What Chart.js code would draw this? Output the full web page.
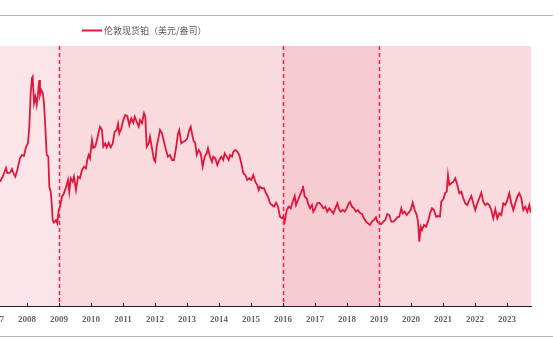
<!DOCTYPE html>
<html>
<head>
<meta charset="utf-8">
<script src="https://cdn.jsdelivr.net/npm/chart.js@4.4.0/dist/chart.umd.min.js"></script>
<style>
  html, body { margin: 0; padding: 0; background: #fff; overflow: hidden; }
  body { width: 559px; height: 337px; position: relative; }
  #wrap { position: absolute; left: -40px; top: 0; width: 599px; height: 337px; }
  .rule { position: absolute; left: 0; width: 553px; height: 1px; background: #b4b4b4; }
</style>
</head>
<body>
<div class="rule" style="top:15px"></div>
<div id="wrap"><canvas id="chart"></canvas></div>
<div class="rule" style="top:336px"></div>
<script>
// London spot platinum, USD per ounce
const seriesName = '伦敦现货铂（美元/盎司）';

const years = [
  2007.156, 2007.241, 2007.344, 2007.384, 2007.469, 2007.531, 2007.572, 2007.634, 2007.697, 2007.781,
  2007.844, 2007.906, 2007.969, 2008.031, 2008.072, 2008.116, 2008.156, 2008.178, 2008.219, 2008.259,
  2008.303, 2008.344, 2008.384, 2008.406, 2008.447, 2008.491, 2008.531, 2008.572, 2008.616, 2008.666,
  2008.697, 2008.741, 2008.772, 2008.803, 2008.844, 2008.906, 2008.947, 2008.991, 2009.031, 2009.094,
  2009.156, 2009.241, 2009.281, 2009.322, 2009.366, 2009.428, 2009.469, 2009.531, 2009.594, 2009.656,
  2009.719, 2009.781, 2009.844, 2009.884, 2009.928, 2009.969, 2010.031, 2010.072, 2010.134, 2010.197,
  2010.241, 2010.281, 2010.344, 2010.384, 2010.447, 2010.491, 2010.553, 2010.616, 2010.678, 2010.741,
  2010.803, 2010.844, 2010.884, 2010.947, 2011.009, 2011.072, 2011.134, 2011.197, 2011.259, 2011.322,
  2011.366, 2011.428, 2011.491, 2011.531, 2011.594, 2011.656, 2011.697, 2011.741, 2011.803, 2011.844,
  2011.906, 2011.969, 2012.009, 2012.053, 2012.116, 2012.156, 2012.219, 2012.281, 2012.344, 2012.406,
  2012.469, 2012.531, 2012.594, 2012.656, 2012.719, 2012.759, 2012.822, 2012.884, 2012.938, 2013.009,
  2013.072, 2013.116, 2013.156, 2013.197, 2013.259, 2013.303, 2013.366, 2013.428, 2013.491, 2013.553,
  2013.616, 2013.656, 2013.719, 2013.781, 2013.822, 2013.884, 2013.947, 2014.009, 2014.072, 2014.134,
  2014.178, 2014.241, 2014.303, 2014.344, 2014.406, 2014.447, 2014.509, 2014.572, 2014.634, 2014.697,
  2014.759, 2014.822, 2014.884, 2014.947, 2015.009, 2015.072, 2015.134, 2015.197, 2015.241, 2015.281,
  2015.344, 2015.406, 2015.469, 2015.531, 2015.594, 2015.656, 2015.719, 2015.781, 2015.844, 2015.906,
  2015.969, 2016.009, 2016.053, 2016.116, 2016.178, 2016.241, 2016.303, 2016.366, 2016.406, 2016.469,
  2016.531, 2016.594, 2016.625, 2016.678, 2016.741, 2016.781, 2016.844, 2016.906, 2016.947, 2017.009,
  2017.072, 2017.134, 2017.197, 2017.259, 2017.322, 2017.384, 2017.447, 2017.509, 2017.572, 2017.634,
  2017.697, 2017.741, 2017.803, 2017.866, 2017.928, 2017.991, 2018.053, 2018.094, 2018.156, 2018.219,
  2018.281, 2018.344, 2018.406, 2018.469, 2018.531, 2018.594, 2018.656, 2018.719, 2018.781, 2018.844,
  2018.906, 2018.947, 2019.009, 2019.072, 2019.134, 2019.197, 2019.259, 2019.322, 2019.384, 2019.447,
  2019.509, 2019.572, 2019.634, 2019.697, 2019.741, 2019.803, 2019.866, 2019.928, 2019.991, 2020.053,
  2020.116, 2020.178, 2020.219, 2020.259, 2020.303, 2020.344, 2020.406, 2020.469, 2020.531, 2020.594,
  2020.656, 2020.719, 2020.781, 2020.844, 2020.906, 2020.947, 2021.009, 2021.072, 2021.116, 2021.156,
  2021.197, 2021.259, 2021.322, 2021.384, 2021.447, 2021.509, 2021.572, 2021.634, 2021.697, 2021.759,
  2021.822, 2021.884, 2021.947, 2022.009, 2022.072, 2022.134, 2022.197, 2022.259, 2022.322, 2022.384,
  2022.447, 2022.509, 2022.572, 2022.634, 2022.697, 2022.759, 2022.822, 2022.884, 2022.947, 2023.009,
  2023.072, 2023.134, 2023.197, 2023.259, 2023.322, 2023.384, 2023.447, 2023.509, 2023.572, 2023.634,
  2023.697, 2023.741
];

const prices = [
  1195, 1243, 1327, 1279, 1282, 1317, 1279, 1243, 1308, 1423,
  1452, 1442, 1529, 1567, 1724, 2048, 2192, 2205, 1952, 2012,
  1933, 2048, 2173, 2029, 2077, 2051, 1952, 1724, 1452, 1436,
  1147, 1099, 990, 827, 801, 827, 795, 923, 955, 1051,
  1084, 1163, 1211, 1099, 1228, 1195, 1243, 1115, 1243, 1228,
  1308, 1339, 1324, 1404, 1452, 1420, 1596, 1519, 1532, 1612,
  1676, 1724, 1692, 1532, 1564, 1526, 1570, 1526, 1564, 1676,
  1692, 1750, 1660, 1709, 1788, 1836, 1827, 1740, 1805, 1762,
  1820, 1772, 1724, 1788, 1757, 1853, 1820, 1532, 1564, 1628,
  1516, 1404, 1387, 1532, 1628, 1692, 1660, 1580, 1500, 1436,
  1452, 1404, 1404, 1516, 1660, 1692, 1564, 1580, 1586, 1612,
  1692, 1724, 1660, 1596, 1564, 1452, 1500, 1468, 1339, 1436,
  1468, 1516, 1436, 1387, 1436, 1420, 1356, 1404, 1436, 1404,
  1468, 1436, 1404, 1452, 1436, 1484, 1500, 1484, 1452, 1372,
  1276, 1260, 1211, 1228, 1211, 1260, 1195, 1163, 1115, 1147,
  1132, 1132, 1084, 1051, 987, 971, 955, 993, 955, 859,
  843, 859, 811, 923, 955, 939, 1003, 1058, 971, 1019,
  1067, 1115, 1154, 1051, 1036, 987, 939, 971, 907, 939,
  987, 993, 971, 939, 955, 907, 939, 916, 891, 939,
  987, 939, 907, 923, 907, 939, 987, 1003, 955, 939,
  907, 923, 894, 885, 843, 811, 795, 779, 811, 827,
  853, 811, 795, 788, 811, 827, 885, 875, 811, 811,
  827, 853, 859, 939, 891, 907, 875, 897, 923, 993,
  923, 875, 811, 618, 762, 731, 779, 762, 811, 891,
  939, 923, 859, 865, 859, 1003, 1026, 1089, 1099, 1260,
  1163, 1180, 1195, 1228, 1163, 1084, 1099, 1036, 987, 971,
  1019, 1058, 987, 923, 987, 1036, 1089, 1003, 971, 987,
  971, 923, 843, 930, 843, 891, 875, 987, 971, 1019,
  1084, 987, 923, 987, 1051, 1084, 1036, 923, 955, 907,
  971, 897
];

const tickYears = [2007, 2008, 2009, 2010, 2011, 2012, 2013, 2014, 2015, 2016,
                   2017, 2018, 2019, 2020, 2021, 2022, 2023];

// shaded periods (start year) and their fills; each runs to the next start
const bandStarts = [2006.2, 2009, 2016, 2019];
const bandColors = ['#fce5e9', '#f9dade', '#f7cbd2', '#f9dade'];
const markerYears = [2009, 2016, 2019];

const lineColor = '#e0173a';
const markerColor = '#ff1f45';

const bandsPlugin = {
  id: 'bands',
  beforeDatasetsDraw(chart) {
    const { ctx, chartArea, scales } = chart;
    const x = scales.x;
    ctx.save();
    bandStarts.forEach((start, i) => {
      const x0 = Math.max(x.getPixelForValue(start), chartArea.left);
      const x1 = i + 1 < bandStarts.length ? x.getPixelForValue(bandStarts[i + 1]) : chartArea.right;
      ctx.fillStyle = bandColors[i];
      ctx.fillRect(x0, chartArea.top, x1 - x0, chartArea.bottom - chartArea.top);
    });
    ctx.restore();
  },
  afterDatasetsDraw(chart) {
    const { ctx, chartArea, scales } = chart;
    const x = scales.x;
    // dashed separators between periods
    ctx.save();
    ctx.strokeStyle = markerColor;
    ctx.lineWidth = 1.5;
    ctx.setLineDash([4, 3]);
    markerYears.forEach(yr => {
      const px = Math.round(x.getPixelForValue(yr)) + 0.5;
      ctx.beginPath();
      ctx.moveTo(px, chartArea.top);
      ctx.lineTo(px, chartArea.bottom);
      ctx.stroke();
    });
    ctx.restore();
  },
  afterDraw(chart) {
    const { ctx, chartArea, scales } = chart;
    const x = scales.x;
    ctx.save();
    // small inward tick marks on the axis
    ctx.strokeStyle = '#222';
    ctx.lineWidth = 1;
    tickYears.forEach(yr => {
      const px = Math.round(x.getPixelForValue(yr)) + 0.5;
      ctx.beginPath();
      ctx.moveTo(px, chartArea.bottom);
      ctx.lineTo(px, chartArea.bottom - 3);
      ctx.stroke();
    });
    // legend
    ctx.strokeStyle = lineColor;
    ctx.lineWidth = 2;
    ctx.beginPath();
    ctx.moveTo(122, 30.5);
    ctx.lineTo(142, 30.5);
    ctx.stroke();
    ctx.fillStyle = '#555';
    ctx.font = '9px "Noto Sans CJK SC", sans-serif';
    ctx.textBaseline = 'middle';
    ctx.fillText(seriesName, 144, 30.5);
    ctx.restore();
  }
};

new Chart(document.getElementById('chart'), {
  type: 'line',
  data: {
    datasets: [{
      label: seriesName,
      data: years.map((yr, i) => ({ x: yr, y: prices[i] })),
      borderColor: lineColor,
      borderWidth: 1.8,
      pointRadius: 0,
      tension: 0,
      fill: false
    }]
  },
  options: {
    responsive: true,
    maintainAspectRatio: false,
    animation: false,
    layout: { padding: { left: 10, right: 28, top: 46, bottom: 6 } },
    plugins: { legend: { display: false }, tooltip: { enabled: false } },
    scales: {
      x: {
        type: 'linear',
        min: 2006.219,
        max: 2023.75,
        afterBuildTicks: s => { s.ticks = tickYears.map(v => ({ value: v })); },
        afterFit: s => { s.height = 25; },
        grid: { display: false, drawTicks: false },
        border: { display: true, color: '#222', width: 1 },
        ticks: {
          padding: 8,
          maxRotation: 0,
          autoSkip: false,
          color: '#666',
          font: { family: '"Liberation Serif", serif', size: 9, weight: 'bold' },
          callback: v => String(v)
        }
      },
      y: {
        display: false,
        min: 0,
        max: 2500
      }
    }
  },
  plugins: [bandsPlugin]
});
</script>
</body>
</html>
